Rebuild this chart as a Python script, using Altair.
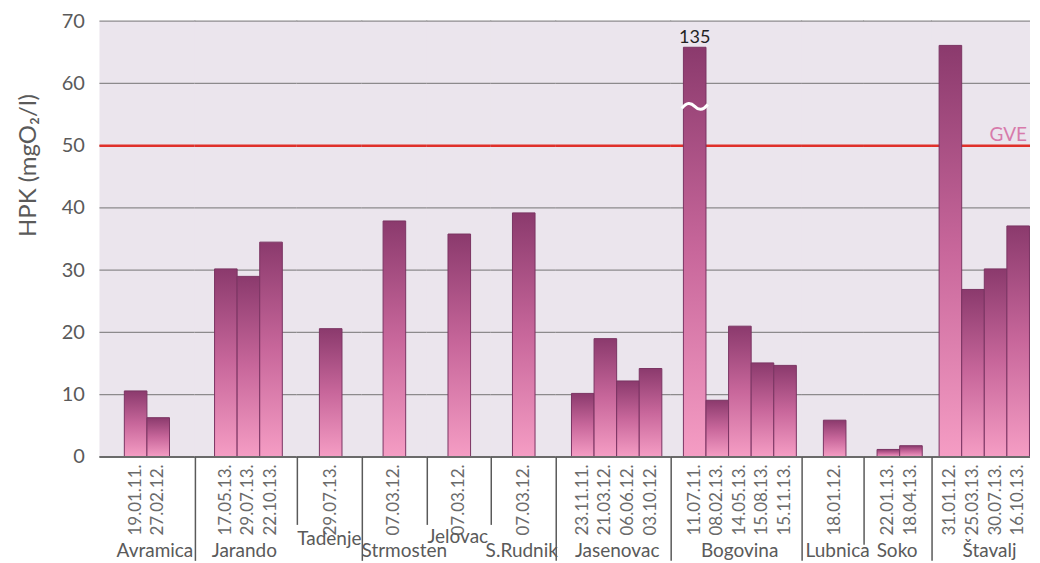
import altair as alt
import pandas as pd

# ---------------- data ----------------
stations = ["Avramica", "Jarando", "Tadenje", "Strmosten", "Jelovac", "S.Rudnik",
            "Jasenovac", "Bogovina", "Lubnica", "Soko", "Štavalj"]

dates_avramica = ["19.01.11.", "27.02.12."]
dates_jarando = ["17.05.13.", "29.07.13.", "22.10.13."]
dates_tadenje = ["29.07.13."]
dates_strmosten = ["07.03.12."]
dates_jelovac = ["07.03.12."]
dates_srudnik = ["07.03.12."]
dates_jasenovac = ["23.11.11.", "21.03.12.", "06.06.12.", "03.10.12."]
dates_bogovina = ["11.07.11.", "08.02.13.", "14.05.13.", "15.08.13.", "15.11.13."]
dates_lubnica = ["18.01.12."]
dates_soko = ["22.01.13.", "18.04.13."]
dates_stavalj = ["31.01.12.", "25.03.13.", "30.07.13.", "16.10.13."]

hpk_avramica = [10.6, 6.3]
hpk_jarando = [30.2, 29.0, 34.5]
hpk_tadenje = [20.6]
hpk_strmosten = [37.9]
hpk_jelovac = [35.8]
hpk_srudnik = [39.2]
hpk_jasenovac = [10.2, 19.0, 12.2, 14.2]
hpk_bogovina = [135, 9.1, 21.0, 15.1, 14.7]
hpk_lubnica = [5.9]
hpk_soko = [1.2, 1.8]
hpk_stavalj = [66.1, 26.9, 30.2, 37.1]

all_dates = [dates_avramica, dates_jarando, dates_tadenje, dates_strmosten, dates_jelovac,
             dates_srudnik, dates_jasenovac, dates_bogovina, dates_lubnica, dates_soko, dates_stavalj]
all_hpk = [hpk_avramica, hpk_jarando, hpk_tadenje, hpk_strmosten, hpk_jelovac,
           hpk_srudnik, hpk_jasenovac, hpk_bogovina, hpk_lubnica, hpk_soko, hpk_stavalj]

GVE = 50
Y_MAX = 70
Y_TICKS = [0, 10, 20, 30, 40, 50, 60, 70]
BREAK_TOP = 65.8      # an off-scale value (135) is drawn as a broken bar of this height
BREAK_MARK = 56.3     # where the white break sign sits

# ---------------- style / layout ----------------
H = 436
STEP = 22.6
PANEL_W = [96, 102, 65, 65, 64, 65, 115, 131, 62, 68, 98]
ALIGN = [0.49, 0.56, 0.52, 0.49, 0.5, 0.5, 0.62, 0.68, 0.54, 0.57, 0.93]
SEP_LEN = [0, 104, 68, 104, 68, 68, 104, 104, 104, 88, 104]
TITLE_DX = [7, -2.5, -1, 9, -2, -2.5, 3, 2.5, 4, -1.5, 8]
TITLE_Y = [100, 100, 88, 100, 86, 100, 100, 100, 100, 100, 100]

BG = "#ebe5ed"
GRID = "#8c8a8c"
RED = "#e0302a"
PINK = "#d77aab"
TXT = "#5a5a5a"
SEP_COLOR = "#5a5a5a"
BAR_STROKE = "#7a3462"
GRADIENT = {
    "gradient": "linear", "x1": 0, "x2": 0, "y1": 0, "y2": 1,
    "stops": [
        {"offset": 0, "color": "#8b3a6d"},
        {"offset": 0.5, "color": "#c8679b"},
        {"offset": 1, "color": "#f59dc4"},
    ],
}
TILDE = "M -1 0.15 C -0.6 -0.35 -0.3 -0.3 0 0 C 0.3 0.3 0.6 0.35 1 -0.15"

yscale = alt.Scale(domain=[0, Y_MAX], nice=False, zero=True)


def make_panel(i):
    dts = all_dates[i]
    vals = all_hpk[i]
    n = len(dts)
    w = PANEL_W[i]
    xs = 0 if i == 0 else -1          # overlap the neighbour by 1px to hide seams
    df = pd.DataFrame({"date": dts, "hpk": vals})
    df["shown"] = df["hpk"].where(df["hpk"] <= Y_MAX, BREAK_TOP)

    x0 = ALIGN[i] * (w - n * STEP)
    xscale = alt.Scale(domain=dts, paddingInner=0, paddingOuter=0, range=[x0, x0 + n * STEP])
    xaxis = alt.Axis(
        title=stations[i], labelAngle=270, labelFontSize=17, labelColor="#6a6a6a",
        labelPadding=7, ticks=False, domain=False,
        grid=False, titleFontSize=19, titleColor=TXT, titleFontWeight="normal",
        titleX=w / 2 + TITLE_DX[i], titleY=TITLE_Y[i], titleBaseline="alphabetic",
        titleAlign="center",
    )
    if i == 0:
        yaxis = alt.Axis(
            values=Y_TICKS, labelFontSize=20, labelColor=TXT, labelPadding=15,
            ticks=False, domain=False, grid=False,
            title="HPK (mgO₂/l)", titleFontSize=24, titleFontWeight="normal",
            titleColor=TXT, titleAngle=270, titleX=-64, titleY=144,
            titleAlign="center", titleBaseline="alphabetic",
        )
    else:
        yaxis = None

    one = pd.DataFrame({"v": [0]})
    layers = []
    # plot background
    layers.append(
        alt.Chart(one).mark_rect(color=BG)
        .encode(x=alt.value(xs), x2=alt.value(w), y=alt.value(0), y2=alt.value(H))
    )
    # horizontal grid lines (carry the y axis)
    layers.append(
        alt.Chart(pd.DataFrame({"tick": Y_TICKS})).mark_rule(color=GRID, strokeWidth=1.3)
        .encode(y=alt.Y("tick:Q", scale=yscale, axis=yaxis),
                x=alt.value(xs), x2=alt.value(w))
    )
    # limit line (GVE), drawn behind the bars
    layers.append(
        alt.Chart(pd.DataFrame({"v": [GVE]})).mark_rule(color=RED, strokeWidth=2.5)
        .encode(y=alt.Y("v:Q", scale=yscale), x=alt.value(xs), x2=alt.value(w))
    )
    layers.append(
        alt.Chart(df).mark_bar(color=GRADIENT, stroke=BAR_STROKE, strokeWidth=1)
        .encode(
            x=alt.X("date:N", scale=xscale, axis=xaxis, sort=dts),
            y=alt.Y("shown:Q", scale=yscale),
        )
    )
    # x-axis base line across the whole panel
    layers.append(
        alt.Chart(pd.DataFrame({"z": [0]})).mark_rule(color="#6a6a6a", strokeWidth=2)
        .encode(y=alt.Y("z:Q", scale=yscale), x=alt.value(xs), x2=alt.value(w))
    )
    if i > 0:
        layers.append(
            alt.Chart(one).mark_rule(color=SEP_COLOR, strokeWidth=1.5)
            .encode(x=alt.value(0), y=alt.value(H), y2=alt.value(H + SEP_LEN[i]))
        )
    brk = df[df["hpk"] > Y_MAX].copy()
    if len(brk):
        brk["label"] = brk["hpk"].map(lambda v: f"{v:g}")
        brk["mark"] = BREAK_MARK
        layers.append(
            alt.Chart(brk).mark_text(baseline="alphabetic", dy=-4, fontSize=18, color="#222222")
            .encode(x=alt.X("date:N", scale=xscale, sort=dts),
                    y=alt.Y("shown:Q", scale=yscale), text="label:N")
        )
        layers.append(
            alt.Chart(brk).mark_point(shape=TILDE, size=676, filled=False, color="white",
                                      strokeWidth=3, opacity=1)
            .encode(x=alt.X("date:N", scale=xscale, sort=dts),
                    y=alt.Y("mark:Q", scale=yscale))
        )
    if i == len(stations) - 1:
        layers.append(
            alt.Chart(pd.DataFrame({"v": [GVE], "t": ["GVE"]}))
            .mark_text(align="right", baseline="alphabetic", dy=-5, fontSize=19, color=PINK)
            .encode(x=alt.value(w - 3), y=alt.Y("v:Q", scale=yscale), text="t:N")
        )
    return alt.layer(*layers).properties(width=w, height=H)


panels = [make_panel(i) for i in range(len(stations))]

chart = (
    alt.hconcat(*panels, spacing=0, bounds="flush")
    .properties(padding={"left": 8.5, "top": 3, "right": 0, "bottom": 0})
    .configure(font="Lato")
    .configure_view(fill=None, strokeWidth=0)
)

chart.save("out.html", embed_options={"renderer": "svg", "actions": False})
